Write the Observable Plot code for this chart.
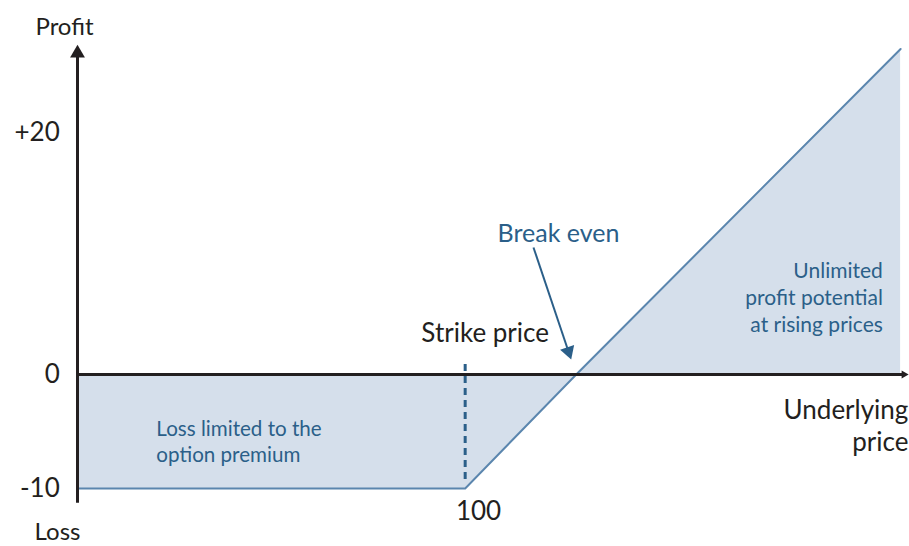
<!DOCTYPE html>
<html>
<head>
<meta charset="utf-8">
<script src="https://cdn.jsdelivr.net/npm/d3@7"></script>
<script src="https://cdn.jsdelivr.net/npm/@observablehq/plot@0.6"></script>
<style>
  html, body { margin: 0; padding: 0; background: #fff; }
  #chart svg { display: block; }
</style>
</head>
<body>
<div id="chart"></div>
<script>
// Payoff of a long call: underlying price vs profit
const priceX = [65.1, 100, 110, 139.2];
const profitY = [-10, -10, 0, 26.9];
const strikePrice = 100;
const breakEven = 110;

// Axis tick labels
const yTickValues = [20, 0, -10];
const yTickLabels = ["+20", "0", "-10"];
const xTickValues = [100];
const xTickLabels = ["100"];

// Axis extents (data units)
const xAxisStart = 65.1;
const xAxisEnd = 139.5;
const yAxisStart = -11.3;
const yAxisEnd = 26.3;
const strikeLineRange = [-9.2, 1.07];

// Annotation positions (data units)
const labelNames = ["Profit", "Loss", "Underlying\nprice", "Strike price", "Break even", "Unlimited\nprofit potential\nat rising prices", "Loss limited to the\noption premium"];
const labelX = [63.93, 63.3, 139.9, 101.8, 108.4, 137.6, 72.2];
const labelY = [28.68, -13.85, -4.43, 3.39, 11.65, 6.45, -5.79];
const arrowFrom = [106.15, 10.5];
const arrowTo = [109.3, 1.9];

const payoff = priceX.map((x, i) => ({x, y: profitY[i]}));
const yTicks = yTickValues.map((v, i) => ({v, label: yTickLabels[i]}));
const xTicks = xTickValues.map((v, i) => ({v, label: xTickLabels[i]}));
const labels = labelNames.map((t, i) => ({t, x: labelX[i], y: labelY[i]}));

const dark = "#231f20";
const blue = "#2b5f89";
const lineBlue = "#5b86ae";
const fillBlue = "#d5dfeb";
const font = "Lato, 'Open Sans', sans-serif";

// the profit side of the axis is drawn slightly more stretched than the loss side
const stretch = v => (v >= 0 ? v * (12.1 / 11.4) : v);

const chart = Plot.plot({
  width: 909,
  height: 546,
  marginTop: 0, marginRight: 0, marginBottom: 0, marginLeft: 0,
  style: {fontFamily: font, background: "#fff"},
  x: {domain: [65.1, 140], range: [77, 909], axis: null},
  y: {transform: stretch, domain: [-10, stretch(20)], range: [488, 132], axis: null},
  marks: [
    Plot.areaY(payoff, {x: "x", y1: 0, y2: "y", fill: fillBlue}),
    Plot.line(payoff, {x: "x", y: "y", stroke: lineBlue, strokeWidth: 2}),
    // strike dashed line
    Plot.ruleX([strikePrice], {y1: strikeLineRange[0], y2: strikeLineRange[1], stroke: blue, strokeWidth: 3, strokeDasharray: "7,5"}),
    // axes
    Plot.ruleY([0], {x1: xAxisStart, x2: xAxisEnd, stroke: dark, strokeWidth: 3}),
    Plot.ruleX([xAxisStart], {y1: yAxisStart, y2: yAxisEnd, stroke: dark, strokeWidth: 3}),
    Plot.dot([{x: xAxisStart, y: yAxisEnd}], {x: "x", y: "y", symbol: "triangle", r: 5.5, fill: dark, rotate: 0, dy: -3}),
    Plot.dot([{x: xAxisEnd, y: 0}], {x: "x", y: "y", symbol: "triangle", r: 3, fill: dark, rotate: 90}),
    // break-even arrow
    Plot.link([{x1: arrowFrom[0], y1: arrowFrom[1], x2: arrowTo[0], y2: arrowTo[1]}], {x1: "x1", y1: "y1", x2: "x2", y2: "y2", stroke: blue, strokeWidth: 2}),
    Plot.dot([{x: arrowTo[0], y: arrowTo[1]}], {x: "x", y: "y", symbol: "triangle", r: 5.5, fill: blue, rotate: 161.4}),
    // tick labels
    Plot.text(yTicks, {x: 63.5, y: "v", text: "label", textAnchor: "end", fontSize: 26, fill: dark}),
    Plot.text(xTicks, {x: d => d.v + 1.2, y: -12, text: "label", fontSize: 26, fill: dark}),
    // axis titles
    Plot.text(labels.slice(0, 2), {x: "x", y: "y", text: "t", fontSize: 24, fill: dark}),
    Plot.text(labels.slice(2, 3), {x: "x", y: "y", text: "t", fontSize: 26, fill: dark, textAnchor: "end", lineHeight: 1.2}),
    Plot.text(labels.slice(3, 4), {x: "x", y: "y", text: "t", fontSize: 26, fill: dark}),
    Plot.text(labels.slice(4, 5), {x: "x", y: "y", text: "t", fontSize: 25, fill: blue}),
    Plot.text(labels.slice(5, 6), {x: "x", y: "y", text: "t", fontSize: 21, fill: blue, textAnchor: "end", lineHeight: 1.3}),
    Plot.text(labels.slice(6, 7), {x: "x", y: "y", text: "t", fontSize: 20.6, fill: blue, textAnchor: "start", lineHeight: 1.27})
  ]
});
document.getElementById("chart").appendChild(chart);
</script>
</body>
</html>
